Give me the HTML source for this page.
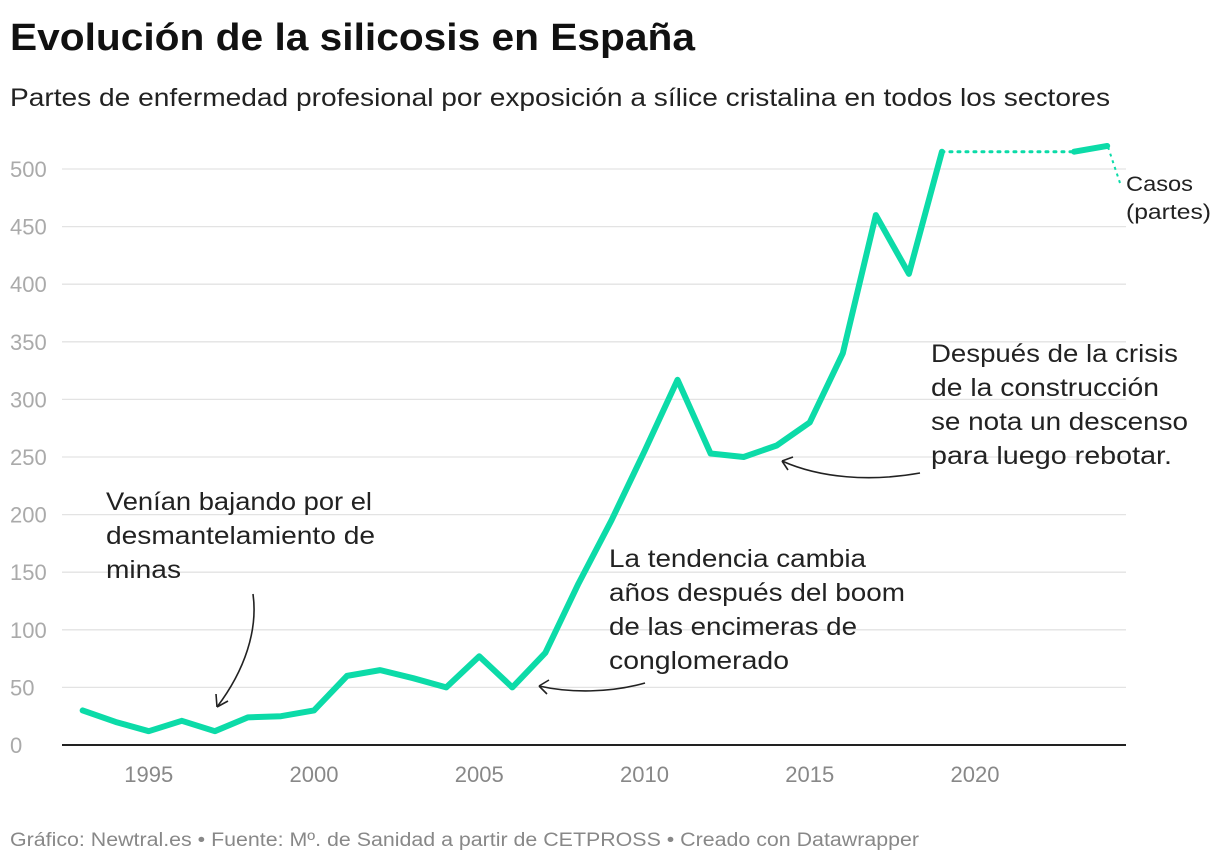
<!DOCTYPE html>
<html><head><meta charset="utf-8"><style>
body{margin:0;background:#fff;font-family:"Liberation Sans",sans-serif;}
svg text{font-family:"Liberation Sans",sans-serif;}
</style></head><body>
<svg id="c" width="1220" height="862" xmlns="http://www.w3.org/2000/svg">
<text x="10" y="50" font-size="38" font-weight="bold" fill="#111" textLength="685" lengthAdjust="spacingAndGlyphs">Evolución de la silicosis en España</text>
<text x="10" y="106" font-size="25" fill="#222" textLength="1100" lengthAdjust="spacingAndGlyphs">Partes de enfermedad profesional por exposición a sílice cristalina en todos los sectores</text>
<g id="grid"></g><g id="xt"></g><g id="series"></g>
<g fill="none" stroke="#222" stroke-width="1.6">
<path d="M253 594 C258 630 245 670 217 707"/><path d="M217 707 L216 694 M217 707 L228 701"/>
<path d="M645 683 C610 693 570 693 539 686"/><path d="M539 686 L549 680 M539 686 L547 694"/>
<path d="M920 473 C870 482 820 478 782 461"/><path d="M782 461 L793 457 M782 461 L788 470"/>
</g>
<g font-size="25" fill="#222" lengthAdjust="spacingAndGlyphs">
<text x="106" y="510" textLength="266" lengthAdjust="spacingAndGlyphs">Venían bajando por el</text><text x="106" y="544" textLength="269" lengthAdjust="spacingAndGlyphs">desmantelamiento de</text><text x="106" y="578" textLength="75" lengthAdjust="spacingAndGlyphs">minas</text>
<text x="609" y="567" textLength="257" lengthAdjust="spacingAndGlyphs">La tendencia cambia</text><text x="609" y="601" textLength="296" lengthAdjust="spacingAndGlyphs">años después del boom</text><text x="609" y="635" textLength="248" lengthAdjust="spacingAndGlyphs">de las encimeras de</text><text x="609" y="669" textLength="180" lengthAdjust="spacingAndGlyphs">conglomerado</text>
<text x="931" y="362" textLength="247" lengthAdjust="spacingAndGlyphs">Después de la crisis</text><text x="931" y="396" textLength="228" lengthAdjust="spacingAndGlyphs">de la construcción</text><text x="931" y="430" textLength="257" lengthAdjust="spacingAndGlyphs">se nota un descenso</text><text x="931" y="464" textLength="241" lengthAdjust="spacingAndGlyphs">para luego rebotar.</text>
</g>
<g font-size="21" fill="#222"><text x="1126" y="191" textLength="67" lengthAdjust="spacingAndGlyphs">Casos</text><text x="1126" y="219" textLength="85" lengthAdjust="spacingAndGlyphs">(partes)</text></g>
<line x1="1108" y1="147" x2="1120" y2="183" stroke="#0cdba8" stroke-width="2" stroke-dasharray="3 4"/>
<text x="10" y="846" font-size="19" fill="#888" textLength="909" lengthAdjust="spacingAndGlyphs">Gráfico: Newtral.es • Fuente: Mº. de Sanidad a partir de CETPROSS • Creado con Datawrapper</text>
</svg>
<script>
const years=[1993,1994,1995,1996,1997,1998,1999,2000,2001,2002,2003,2004,2005,2006,2007,2008,2009,2010,2011,2012,2013,2014,2015,2016,2017,2018,2019];
const cases=[30,20,12,21,12,24,25,30,60,65,58,50,77,50,80,140,195,255,317,253,250,260,280,340,460,409,515];
const recentYears=[2023,2024];
const recentCases=[515,520];
const yTicks=[0,50,100,150,200,250,300,350,400,450,500];
const xTicks=[1995,2000,2005,2010,2015,2020];
const NS='http://www.w3.org/2000/svg';
const x=y=>314+(y-2000)*33.05;
const yv=v=>745-v*1.152;
function mk(tag,attrs,parent,txt){const e=document.createElementNS(NS,tag);for(const k in attrs)e.setAttribute(k,attrs[k]);if(txt!==undefined)e.textContent=txt;document.getElementById(parent).appendChild(e);return e;}
yTicks.forEach(t=>{
  const l=mk('line',{x1:62,x2:1126,y1:yv(t),y2:yv(t),stroke:t===0?'#222':'#e3e3e3','stroke-width':t===0?2:1.3},'grid');
  
  
  const tx=mk('text',{x:10,y:yv(t)+8,'font-size':22,fill:'#aaa'},'grid',String(t));
  
  
});
xTicks.forEach(t=>{
  const tx=mk('text',{x:x(t),y:782,'font-size':22,fill:'#888','text-anchor':'middle'},'xt',String(t));
  
  
});
const pts=years.map((y,i)=>x(y)+','+yv(cases[i])).join(' ');
const p=mk('polyline',{points:pts,fill:'none',stroke:'#0cdba8','stroke-width':6,'stroke-linejoin':'round','stroke-linecap':'round'},'series');


const ly=years.length-1;
const d=mk('line',{x1:x(years[ly]),y1:yv(cases[ly]),x2:x(recentYears[0]),y2:yv(recentCases[0]),stroke:'#0cdba8','stroke-width':3,'stroke-dasharray':'2 6','stroke-linecap':'round'},'series');


const p2=mk('polyline',{points:recentYears.map((y,i)=>x(y)+','+yv(recentCases[i])).join(' '),fill:'none',stroke:'#0cdba8','stroke-width':6,'stroke-linecap':'round'},'series');


</script>
</body></html>
